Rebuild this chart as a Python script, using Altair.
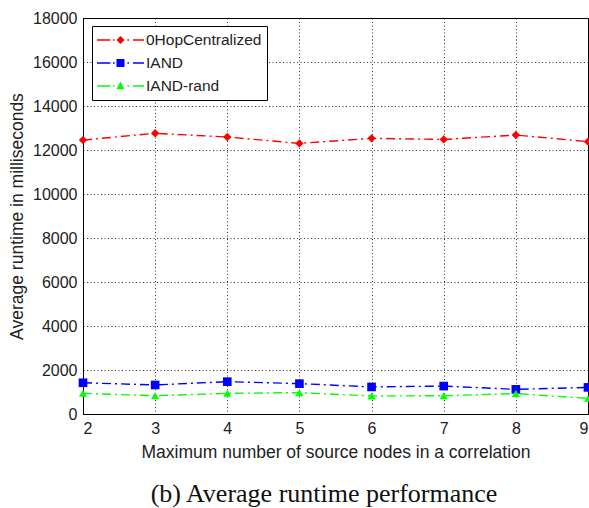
import altair as alt
import pandas as pd

x_vals = [2, 3, 4, 5, 6, 7, 8, 9]
series_names = ["0HopCentralized", "IAND", "IAND-rand"]
hop0 = [12450, 12760, 12590, 12300, 12530, 12480, 12680, 12380]
iand = [1420, 1320, 1470, 1380, 1230, 1270, 1120, 1210]
iand_rand = [940, 830, 940, 970, 820, 830, 930, 710]
colors = ["#ff0000", "#0000ff", "#00ff00"]
caption = ["(b) Average runtime performance"]

rows = []
for name, vals in zip(series_names, [hop0, iand, iand_rand]):
    for xv, yv in zip(x_vals, vals):
        rows.append({"x": xv, "y": yv, "series": name})
df = pd.DataFrame(rows)

# legend glyph built in a unit where 1 unit = 9 px (symbolSize 324)
U = 9.0

def u(px):
    return round(-1 + px / U, 3)

def bar(a, b, t=0.75):
    tt = round(t / U, 3)
    return f"M{u(a)},{-tt}H{u(b)}V{tt}H{u(a)}Z"

c = u(23.5)
line_part = bar(0, 13.4) + bar(16, 17.6) + bar(30.4, 32) + bar(36, 47)
m = 4.0 / U
legend_shapes = [
    line_part + f"M{round(c - m, 3)},0L{c},{round(-m, 3)}L{round(c + m, 3)},0L{c},{round(m, 3)}Z",
    line_part + f"M{round(c - m, 3)},{round(-m, 3)}H{round(c + m, 3)}V{round(m, 3)}H{round(c - m, 3)}Z",
    line_part + f"M{c},{round(-m * 1.1, 3)}L{round(c + m, 3)},{round(m * 0.8, 3)}L{round(c - m, 3)},{round(m * 0.8, 3)}Z",
]

xs = alt.Scale(domain=[2, 9], nice=False)
ys = alt.Scale(domain=[0, 18000], nice=False)
cs = alt.Scale(domain=series_names, range=colors)

x_enc = alt.X("x:Q", scale=xs, title="Maximum number of source nodes in a correlation",
              axis=alt.Axis(values=x_vals, format="d"))
y_enc = alt.Y("y:Q", scale=ys, title="Average runtime in milliseconds",
              axis=alt.Axis(values=list(range(0, 18001, 2000)), format="d"))

base = alt.Chart(df)

legend_layer = base.mark_point(filled=True, opacity=0).encode(
    x=x_enc, y=y_enc,
    color=alt.Color("series:N", scale=cs, legend=alt.Legend(title=None, symbolOpacity=1)),
    shape=alt.Shape("series:N", scale=alt.Scale(domain=series_names, range=legend_shapes),
                    legend=alt.Legend(title=None, symbolOpacity=1)),
)

marker_shapes = ["diamond", "square", "triangle-up"]
marker_sizes = [70, 75, 65]
layers = [legend_layer]
for name, col in zip(series_names, colors):
    layers.append(
        base.transform_filter(alt.datum.series == name).mark_line(
            strokeWidth=1.4, strokeDash=[9, 4, 2, 4], color=col
        ).encode(x=x_enc, y=y_enc)
    )
for name, col, shp, sz in zip(series_names, colors, marker_shapes, marker_sizes):
    layers.append(
        base.transform_filter(alt.datum.series == name).mark_point(
            filled=True, shape=shp, size=sz, opacity=1, color=col
        ).encode(x=x_enc, y=y_enc)
    )

cap_df = pd.DataFrame({"t": caption})
cap = alt.Chart(cap_df).mark_text(
    font="Liberation Serif", fontSize=26, color="#111", align="center", baseline="middle"
).encode(text="t:N", x=alt.value(241), y=alt.value(476))
layers.append(cap)

chart = alt.layer(*layers).properties(
    width=505, height=396,
    autosize=alt.AutoSizeParams(type="none"),
    padding={"left": 83, "top": 18, "right": 1, "bottom": 94},
).configure_view(stroke="#000", strokeWidth=1).configure_axis(
    domainColor="#000", tickColor="#000", tickSize=0,
    gridColor="#000", gridDash=[1, 2.5], gridOpacity=0.8, grid=True,
    labelFont="Liberation Sans", labelFontSize=16, labelColor="#222",
    titleFont="Liberation Sans", titleFontSize=17.5, titleFontWeight="normal", titleColor="#222",
    labelPadding=6,
).configure_axisX(titlePadding=7).configure_axisY(titlePadding=6).configure_legend(
    orient="none", legendX=9, legendY=8, strokeColor="#000", fillColor="#fff",
    padding=5, symbolSize=324, labelFont="Liberation Sans", labelFontSize=15.5,
    labelColor="#222", labelOffset=31, rowPadding=5, symbolOpacity=1,
    symbolStrokeWidth=0, cornerRadius=0,
)

chart.save("out.html", embed_options={"renderer": "svg", "actions": False})
